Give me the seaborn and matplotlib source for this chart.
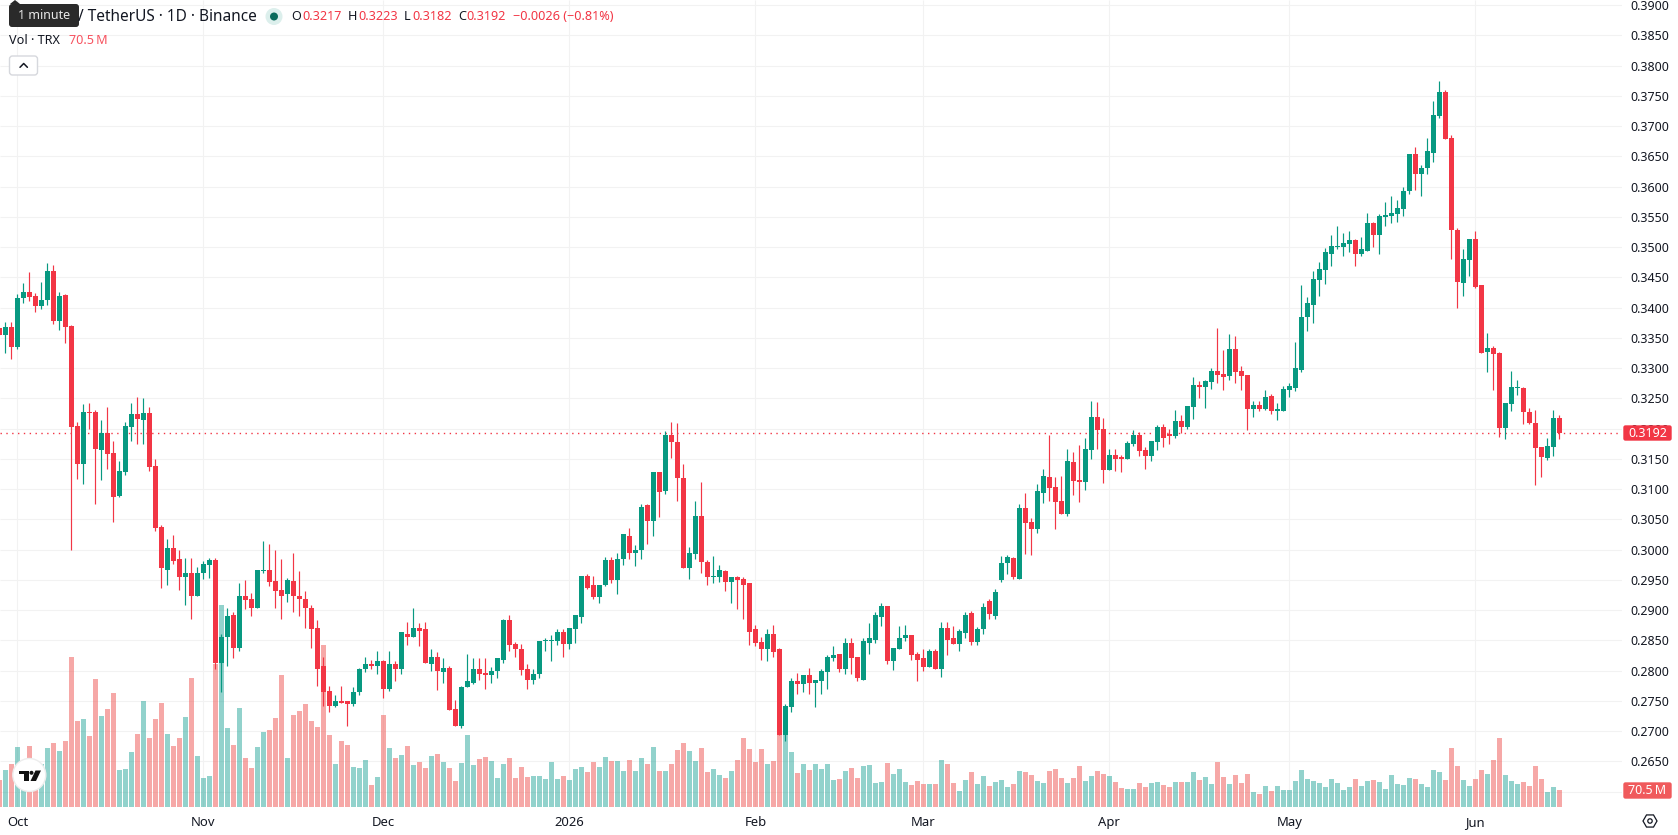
import matplotlib
matplotlib.use("Agg")
import matplotlib.pyplot as plt
import numpy as np
import pandas as pd
import seaborn as sns
from matplotlib.patches import Circle, FancyBboxPatch, Polygon, RegularPolygon

# TRX / TetherUS daily candles, first row starts on 2025-09-28
opens = [
    .3366, .3355, .3368, .3335, .3415, .3426, .3419, .3403, .3413, .3461,
    .3378, .3421, .3370, .3204, .3141, .3227, .3227, .3164, .3193, .3159,
    .3088, .3128, .3203, .3224, .3214, .3226, .3138, .3037, .2967, .3002,
    .2984, .2954, .2962, .2923, .2962, .2974, .2982, .2812, .2855, .2891,
    .2837, .2924, .2918, .2904, .2964, .2967, .2948, .2933, .2926, .2948,
    .2924, .2919, .2904, .2870, .2807, .2767, .2741, .2750, .2749, .2744,
    .2764, .2802, .2810, .2808, .2815, .2769, .2810, .2803, .2861, .2855,
    .2871, .2868, .2811, .2823, .2798, .2805, .2737, .2709, .2772, .2780,
    .2803, .2796, .2792, .2800, .2818, .2884, .2844, .2836, .2803, .2785,
    .2795, .2849, .2849, .2849, .2864, .2844, .2869, .2889, .2957, .2941,
    .2921, .2941, .2982, .2949, .2984, .3023, .2995, .2999, .3073, .3047,
    .3128, .3096, .3189, .3177, .3119, .2969, .2992, .3055, .2980, .2954,
    .2955, .2965, .2946, .2955, .2952, .2944, .2868, .2848, .2835, .2861,
    .2835, .2694, .2740, .2783, .2777, .2792, .2780, .2783, .2798, .2821,
    .2828, .2803, .2846, .2823, .2785, .2846, .2851, .2889, .2906, .2815,
    .2835, .2853, .2858, .2828, .2820, .2806, .2833, .2803, .2871, .2853,
    .2844, .2862, .2895, .2848, .2868, .2915, .2890, .2950, .2977, .2986,
    .2952, .3068, .3045, .3034, .3093, .3120, .3103, .3080, .3058, .3145,
    .3115, .3111, .3164, .3219, .3199, .3131, .3156, .3153, .3150, .3174,
    .3189, .3164, .3154, .3178, .3203, .3191, .3188, .3212, .3203, .3236,
    .3272, .3269, .3277, .3295, .3290, .3287, .3332, .3295, .3289, .3232,
    .3239, .3232, .3254, .3229, .3229, .3264, .3267, .3297, .3385, .3404,
    .3446, .3462, .3489, .3500, .3500, .3505, .3512, .3489, .3494, .3539,
    .3520, .3550, .3552, .3555, .3563, .3592, .3654, .3621, .3630, .3656,
    .3716, .3757, .3681, .3529, .3441, .3479, .3514, .3438, .3327, .3333,
    .3325, .3201, .3241, .3267, .3267, .3227, .3209, .3169, .3151, .3169,
    .3217,
]
highs = [
    .3366, .3376, .3376, .3423, .3441, .3459, .3424, .3443, .3474, .3471,
    .3426, .3423, .3371, .3211, .3241, .3242, .3231, .3214, .3236, .3179,
    .3146, .3211, .3242, .3252, .3251, .3236, .3150, .3040, .3017, .3024,
    .2999, .2986, .2986, .2971, .2981, .2986, .2986, .2860, .2903, .2896,
    .2944, .2949, .2928, .2966, .3014, .3010, .2999, .2984, .2953, .2994,
    .2964, .2931, .2908, .2883, .2823, .2774, .2759, .2775, .2750, .2772,
    .2805, .2823, .2818, .2833, .2818, .2832, .2815, .2863, .2880, .2904,
    .2878, .2881, .2836, .2830, .2820, .2808, .2752, .2775, .2828, .2820,
    .2821, .2820, .2806, .2820, .2886, .2891, .2848, .2844, .2810, .2803,
    .2849, .2854, .2858, .2868, .2868, .2871, .2891, .2957, .2959, .2957,
    .2942, .2987, .2987, .2995, .3025, .3035, .3008, .3075, .3075, .3128,
    .3128, .3196, .3210, .3209, .3141, .3005, .3081, .3111, .2982, .2989,
    .2974, .2967, .2955, .2957, .2955, .2944, .2876, .2856, .2868, .2876,
    .2838, .2744, .2787, .2796, .2793, .2805, .2785, .2803, .2825, .2840,
    .2828, .2854, .2854, .2823, .2853, .2878, .2896, .2912, .2906, .2838,
    .2874, .2876, .2858, .2830, .2836, .2835, .2836, .2881, .2881, .2874,
    .2869, .2897, .2898, .2872, .2912, .2918, .2935, .2989, .2991, .2987,
    .3075, .3093, .3052, .3108, .3133, .3189, .3120, .3121, .3166, .3161,
    .3173, .3184, .3246, .3244, .3217, .3166, .3166, .3156, .3179, .3198,
    .3194, .3169, .3179, .3206, .3207, .3199, .3231, .3222, .3237, .3285,
    .3279, .3280, .3300, .3366, .3330, .3357, .3353, .3304, .3289, .3245,
    .3245, .3264, .3257, .3242, .3270, .3275, .3343, .3438, .3418, .3461,
    .3476, .3499, .3520, .3535, .3524, .3527, .3514, .3517, .3557, .3542,
    .3555, .3575, .3585, .3578, .3600, .3654, .3666, .3635, .3681, .3741,
    .3775, .3760, .3686, .3532, .3497, .3514, .3527, .3438, .3358, .3337,
    .3327, .3242, .3295, .3280, .3269, .3234, .3230, .3169, .3184, .3230,
    .3223,
]
lows = [
    .3355, .3325, .3315, .3332, .3408, .3411, .3393, .3398, .3405, .3373,
    .3363, .3342, .3000, .3116, .3108, .3199, .3075, .3115, .3133, .3045,
    .3087, .3123, .3179, .3174, .3174, .3130, .3030, .2936, .2941, .2976,
    .2933, .2908, .2885, .2923, .2951, .2953, .2802, .2765, .2808, .2820,
    .2833, .2901, .2890, .2903, .2962, .2939, .2903, .2885, .2913, .2896,
    .2890, .2870, .2837, .2775, .2741, .2732, .2739, .2746, .2709, .2741,
    .2760, .2798, .2803, .2795, .2755, .2767, .2782, .2794, .2842, .2855,
    .2841, .2813, .2800, .2768, .2780, .2735, .2709, .2705, .2772, .2777,
    .2785, .2770, .2780, .2787, .2813, .2833, .2823, .2793, .2770, .2777,
    .2787, .2833, .2815, .2843, .2823, .2836, .2846, .2879, .2934, .2919,
    .2912, .2939, .2944, .2926, .2974, .2985, .2972, .2985, .3010, .3022,
    .3053, .3091, .3151, .3081, .2969, .2952, .2985, .2962, .2941, .2944,
    .2947, .2932, .2912, .2902, .2886, .2843, .2841, .2818, .2815, .2823,
    .2693, .2684, .2732, .2762, .2765, .2762, .2739, .2762, .2770, .2816,
    .2798, .2795, .2795, .2782, .2785, .2828, .2846, .2874, .2810, .2801,
    .2835, .2849, .2818, .2783, .2800, .2806, .2803, .2790, .2825, .2844,
    .2833, .2853, .2843, .2842, .2860, .2885, .2885, .2947, .2959, .2951,
    .2951, .2992, .2991, .3027, .3077, .3080, .3034, .3058, .3055, .3090,
    .3078, .3098, .3150, .3166, .3110, .3131, .3130, .3128, .3150, .3171,
    .3154, .3133, .3146, .3164, .3169, .3174, .3184, .3193, .3199, .3216,
    .3251, .3234, .3265, .3275, .3264, .3280, .3275, .3264, .3198, .3219,
    .3229, .3231, .3224, .3214, .3229, .3252, .3262, .3293, .3361, .3375,
    .3419, .3439, .3469, .3497, .3486, .3491, .3469, .3486, .3494, .3500,
    .3489, .3534, .3539, .3542, .3552, .3588, .3595, .3585, .3621, .3641,
    .3714, .3679, .3481, .3399, .3419, .3452, .3433, .3325, .3293, .3264,
    .3186, .3183, .3229, .3255, .3207, .3207, .3107, .3120, .3148, .3154,
    .3182,
]
closes = [
    .3355, .3368, .3335, .3415, .3426, .3418, .3403, .3413, .3461, .3378,
    .3419, .3368, .3203, .3141, .3227, .3225, .3166, .3193, .3158, .3087,
    .3130, .3204, .3224, .3216, .3226, .3136, .3035, .2969, .3002, .2981,
    .2954, .2962, .2924, .2962, .2976, .2982, .2812, .2856, .2890, .2838,
    .2924, .2916, .2904, .2966, .2967, .2946, .2931, .2924, .2949, .2923,
    .2918, .2903, .2868, .2803, .2765, .2742, .2750, .2747, .2744, .2765,
    .2803, .2810, .2808, .2815, .2769, .2810, .2803, .2863, .2855, .2871,
    .2866, .2813, .2823, .2800, .2805, .2735, .2709, .2773, .2783, .2803,
    .2795, .2792, .2800, .2820, .2884, .2843, .2835, .2801, .2785, .2795,
    .2849, .2851, .2851, .2863, .2844, .2871, .2891, .2957, .2937, .2921,
    .2942, .2982, .2949, .2985, .3025, .2994, .2999, .3071, .3047, .3128,
    .3095, .3189, .3177, .3118, .2969, .2994, .3055, .2979, .2954, .2957,
    .2967, .2946, .2955, .2949, .2941, .2864, .2846, .2835, .2861, .2831,
    .2693, .2742, .2782, .2777, .2792, .2780, .2785, .2800, .2823, .2826,
    .2803, .2846, .2820, .2787, .2849, .2854, .2891, .2906, .2815, .2838,
    .2853, .2858, .2826, .2818, .2806, .2833, .2803, .2871, .2851, .2844,
    .2866, .2892, .2848, .2868, .2905, .2893, .2930, .2977, .2987, .2954,
    .3068, .3044, .3034, .3097, .3121, .3102, .3078, .3058, .3146, .3113,
    .3111, .3166, .3219, .3198, .3131, .3156, .3150, .3150, .3176, .3189,
    .3163, .3154, .3179, .3203, .3184, .3188, .3212, .3203, .3237, .3272,
    .3269, .3279, .3295, .3289, .3285, .3332, .3294, .3287, .3232, .3239,
    .3232, .3252, .3229, .3232, .3265, .3270, .3300, .3385, .3408, .3447,
    .3464, .3491, .3502, .3502, .3507, .3512, .3489, .3497, .3539, .3520,
    .3552, .3553, .3557, .3565, .3593, .3654, .3621, .3630, .3658, .3719,
    .3757, .3679, .3529, .3443, .3481, .3514, .3434, .3325, .3333, .3323,
    .3201, .3242, .3269, .3269, .3227, .3209, .3168, .3153, .3171, .3217,
    .3192,
]
# Daily TRX volume, millions
volumes = [
    111, 152, 177, 247, 193, 252, 180, 180, 243, 264,
    231, 272, 620, 355, 363, 293, 529, 376, 405, 471,
    152, 156, 227, 301, 438, 285, 363, 430, 301, 252,
    285, 372, 533, 210, 119, 127, 594, 836, 326, 256,
    409, 202, 160, 247, 310, 318, 368, 546, 202, 380,
    397, 426, 355, 330, 670, 297, 177, 272, 256, 164,
    160, 193, 90, 123, 380, 243, 202, 214, 252, 173,
    187, 162, 211, 220, 187, 162, 108, 182, 299, 174,
    199, 207, 191, 120, 178, 203, 120, 166, 124, 129,
    129, 116, 187, 116, 129, 112, 158, 166, 145, 187,
    166, 207, 191, 191, 149, 195, 149, 203, 178, 249,
    149, 149, 178, 236, 265, 232, 191, 245, 145, 158,
    133, 120, 149, 195, 286, 240, 187, 240, 178, 191,
    299, 299, 228, 141, 178, 153, 178, 158, 178, 112,
    116, 149, 162, 120, 170, 174, 100, 104, 182, 137,
    158, 104, 91, 108, 95, 95, 95, 195, 178, 100,
    66, 112, 145, 95, 129, 87, 104, 112, 83, 95,
    149, 145, 133, 108, 100, 149, 158, 120, 100, 120,
    170, 108, 129, 149, 137, 129, 104, 79, 75, 75,
    100, 83, 100, 104, 91, 83, 104, 104, 104, 145,
    112, 124, 95, 187, 124, 95, 133, 100, 137, 62,
    54, 87, 66, 87, 70.5, 70.5, 108, 153, 116, 108,
    100, 83, 116, 100, 70.5, 83, 116, 87, 108, 112,
    104, 75, 133, 95, 91, 120, 116, 95, 83, 153,
    145, 112, 245, 170, 112, 87, 116, 153, 137, 195,
    286, 133, 108, 95, 104, 87, 170, 116, 62, 83,
    70.5,
]
month_starts = ["2025-10-01", "2025-11-01", "2025-12-01", "2026-01-01", "2026-02-01",
                "2026-03-01", "2026-04-01", "2026-05-01", "2026-06-01"]
month_labels = ["Oct", "Nov", "Dec", "2026", "Feb", "Mar", "Apr", "May", "Jun"]
price_ticks = [round(.265 + .005 * k, 3) for k in range(26)]
grid_prices = [.26] + price_ticks
last_price = closes[-1]
last_volume = volumes[-1]

UP, DOWN = "#089981", "#F23645"
VOL_UP, VOL_DOWN = "#26A69A", "#EF5350"
INK = "#131722"
GRID = "#F2F2F2"
W, H = 1678, 835
PLOT_W, PLOT_H = 1622, 807

sns.set_theme(style="white", font="Noto Sans")
plt.rcParams["font.family"] = ["Noto Sans", "DejaVu Sans"]

dates = pd.date_range("2025-09-28", periods=len(closes), freq="D")
origin = pd.Timestamp("2025-10-01")
df = pd.DataFrame({
    "day": (dates - origin).days,
    "open": opens, "high": highs, "low": lows, "close": closes,
    "volume": volumes,
})
df["direction"] = np.where(df["close"] >= df["open"], "up", "down")
month_pos = [(pd.Timestamp(d) - origin).days for d in month_starts]

fig = plt.figure(figsize=(W / 100, H / 100), dpi=100, facecolor="white")
rect = [0, 1 - PLOT_H / H, PLOT_W / W, PLOT_H / H]
ax_grid = fig.add_axes(rect, zorder=1)
ax_vol = fig.add_axes(rect, zorder=2)
ax = fig.add_axes(rect, zorder=3)

xlim = (-17.33 / 6, (PLOT_W - 17.33) / 6)
price_top = .325 + 398.3 / 6050
price_bottom = .325 - (PLOT_H - 398.3) / 6050

# Grid layer
ax_grid.set_xlim(xlim)
ax_grid.set_ylim(price_bottom, price_top)
ax_grid.hlines(grid_prices, *xlim, color=GRID, lw=0.8)
ax_grid.vlines(month_pos, price_bottom, price_top, color=GRID, lw=0.8)
ax_grid.axis("off")

# Volume pane along the bottom of the price pane
sns.barplot(data=df, x="day", y="volume", hue="direction", native_scale=True,
            palette={"up": VOL_UP, "down": VOL_DOWN}, hue_order=["up", "down"],
            dodge=False, width=0.83, saturation=1, alpha=0.5, linewidth=0,
            errorbar=None, legend=False, ax=ax_vol)
ax_vol.set_xlim(xlim)
ax_vol.set_ylim(0, PLOT_H * last_volume / 17)
ax_vol.patch.set_visible(False)
ax_vol.axis("off")

# Candles: wicks first, bodies on top
colors = np.where(df["direction"] == "up", UP, DOWN)
ax.vlines(df["day"], df["low"], df["high"], colors=colors, lw=0.85, zorder=2)
body_low = df[["open", "close"]].min(axis=1)
body_h = (df["close"] - df["open"]).abs().clip(lower=.00017)
ax.bar(df["day"], body_h, bottom=body_low, width=0.83, color=colors, linewidth=0, zorder=3)
ax.hlines(last_price, xlim[0], xlim[1], colors=DOWN, lw=1.0, linestyles=(0, (1, 3.2)), zorder=1)

ax.set_xlim(xlim)
ax.set_ylim(price_bottom, price_top)
ax.patch.set_visible(False)
for s in ax.spines.values():
    s.set_visible(False)
ax.yaxis.tick_right()
ax.set_yticks(price_ticks, [f"{p:.4f}" for p in price_ticks])
ax.tick_params(axis="y", length=0, pad=6, labelsize=9, labelcolor=INK)
ax.set_xticks(month_pos, month_labels)
ax.tick_params(axis="x", length=0, pad=6.5, labelsize=9.4, labelcolor=INK)
for lab in ax.get_xticklabels():
    if lab.get_text() == "2026":
        lab.set_fontweight("bold")

# Chart chrome drawn in pixel coordinates
ui = fig.add_axes([0, 0, 1, 1], zorder=5)
ui.set_xlim(0, W)
ui.set_ylim(H, 0)
ui.axis("off")

# Price and volume tags on the scale
ui.add_patch(FancyBboxPatch((1624, 426), 47, 14, boxstyle="round,pad=0,rounding_size=1.5",
                            fc=DOWN, ec=DOWN, lw=1))
ui.text(1647.5, 433.5, f"{last_price:.4f}", color="white", fontsize=9, ha="center", va="center")
ui.add_patch(FancyBboxPatch((1624, 783), 47, 15, boxstyle="round,pad=0,rounding_size=1.5",
                            fc="#F05A5C", ec="#F05A5C", lw=1))
ui.text(1647.5, 790.7, f"{last_volume:.1f}\u2009M", color="white", fontsize=9, ha="center", va="center")

# Legend header
HEAD_Y = 17
ui.text(78, HEAD_Y, "/ TetherUS · 1D · Binance", color=INK, fontsize=11.1, va="center", ha="left")
ui.add_patch(Circle((274, 16.5), 8.5, fc="#DCEFEC", ec="none"))
ui.add_patch(Circle((274, 16.5), 4, fc="#0A6B5C", ec="none"))
ohlc_letters = ["O", "H", "L", "C"]
ohlc_letter_x = [291, 348, 404, 458]
ohlc_value_x = [302, 358, 412, 466.5]
ohlc_values = [opens[-1], highs[-1], lows[-1], closes[-1]]
for letter, lx, vx, val in zip(ohlc_letters, ohlc_letter_x, ohlc_value_x, ohlc_values):
    ui.text(lx, HEAD_Y, letter, color=INK, fontsize=9.1, va="center", ha="left")
    ui.text(vx, HEAD_Y, f"{val:.4f}", color=DOWN, fontsize=9.1, va="center", ha="left")
ui.text(513, HEAD_Y, "\u22120.0026 (\u22120.81%)", color=DOWN, fontsize=9.1, va="center", ha="left")
ui.text(9, 41, "Vol · TRX", color=INK, fontsize=9.1, va="center", ha="left")
ui.text(69, 41, f"{last_volume:.1f}\u2009M", color="#F7525F", fontsize=9.1, va="center", ha="left")

# Tooltip over the symbol name
ui.add_patch(Polygon([[10, 4], [15, 0], [20, 4]], closed=True, fc="#2A2A2A", ec="none"))
ui.add_patch(FancyBboxPatch((9, 4), 70, 23, boxstyle="round,pad=0,rounding_size=3", fc="#2A2A2A", ec="none"))
ui.text(44, 15.5, "1 minute", color="#E8E8E8", fontsize=9, ha="center", va="center")

# Collapse button
ui.add_patch(FancyBboxPatch((9.5, 56), 28, 19, boxstyle="round,pad=0,rounding_size=3",
                            fc="white", ec="#D6D8DD", lw=1))
ui.plot([20, 23.7, 27.4], [67.3, 63.5, 67.3], color=INK, lw=1.1, solid_capstyle="round")

# Scale settings icon
ui.add_patch(RegularPolygon((1650, 821), 6, radius=7, orientation=np.pi / 6, fc="none", ec=INK, lw=0.9))
ui.add_patch(Circle((1650, 821), 2.2, fc="none", ec=INK, lw=0.9))

# Logo badge
ui.add_patch(Circle((29.3, 775), 16.5, fc="white", ec="#EDEDED", lw=1))
ui.add_patch(Polygon([[19, 770.5], [29, 770.5], [29, 781], [24, 781], [24, 774], [19, 774]], closed=True, fc="#111111", ec="none"))
ui.add_patch(Circle((31.5, 772.8), 2, fc="#111111", ec="none"))
ui.add_patch(Polygon([[35.5, 770.5], [41, 770.5], [36, 781], [30.5, 781]], closed=True, fc="#111111", ec="none"))

fig.savefig("out.png", dpi=100, facecolor="white")
